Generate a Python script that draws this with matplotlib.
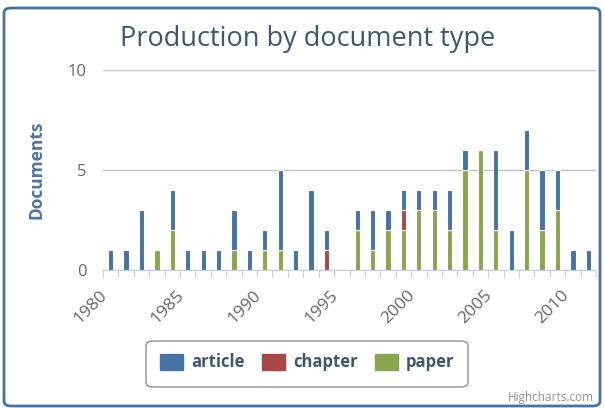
import matplotlib.pyplot as plt
from matplotlib.patches import FancyBboxPatch, Rectangle
from matplotlib.transforms import ScaledTranslation
import numpy as np

# Data
years = list(range(1980, 2012))
article = [1, 1, 3, 0, 2, 1, 1, 1, 2, 1, 1, 4, 1, 4, 1, 0,
           1, 2, 1, 1, 1, 1, 2, 1, 0, 4, 2, 2, 3, 2, 1, 1]
chapter = [0, 0, 0, 0, 0, 0, 0, 0, 0, 0, 0, 0, 0, 0, 1, 0,
           0, 0, 0, 1, 0, 0, 0, 0, 0, 0, 0, 0, 0, 0, 0, 0]
paper = [0, 0, 0, 1, 2, 0, 0, 0, 1, 0, 1, 1, 0, 0, 0, 0,
         2, 1, 2, 2, 3, 3, 2, 5, 6, 2, 0, 5, 2, 3, 0, 0]
tick_years = [1980, 1985, 1990, 1995, 2000, 2005, 2010]
series_names = ['article', 'chapter', 'paper']
colors = ['#4572A7', '#AA4643', '#89A54E']

plt.rcParams['font.family'] = ['Open Sans', 'DejaVu Sans']

W, H = 604, 408
fig = plt.figure(figsize=(W / 100, H / 100), dpi=100)

# outer rounded border
fig.patches.append(FancyBboxPatch((4 / W, 2 / H), 596 / W, 398 / H,
                                  boxstyle='round,pad=0,rounding_size=0.012',
                                  transform=fig.transFigure, fill=False,
                                  edgecolor='#4572A7', linewidth=2))

ax = fig.add_axes([103 / W, 1 - 270 / H, 493 / W, 200 / H])

x = np.array(years)
a = np.array(article)
c = np.array(chapter)
p = np.array(paper)
bw = 0.34
# stacking: paper bottom, chapter middle, article top
ax.bar(x, p, width=bw, color=colors[2], edgecolor='white', linewidth=0.8, zorder=3)
ax.bar(x, c, width=bw, bottom=p, color=colors[1], edgecolor='white', linewidth=0.8, zorder=3)
ax.bar(x, a, width=bw, bottom=p + c, color=colors[0], edgecolor='white', linewidth=0.8, zorder=3)

ax.set_ylim(0, 10)
ax.set_yticks([0, 5, 10])
ax.yaxis.grid(True, color='#C0C0C0', linewidth=1)
ax.set_axisbelow(True)
for s in ['top', 'right', 'left']:
    ax.spines[s].set_visible(False)
ax.spines['bottom'].set_color('#C0D0E0')
ax.tick_params(axis='y', length=0, labelsize=12, labelcolor='#666666', pad=12)

# category boundary ticks, year labels drawn by hand a bit left of the category
ax.set_xticks(np.arange(1979.5, 2012, 1))
ax.set_xticklabels([])
ax.tick_params(axis='x', length=5, color='#C0D0E0')
ax.set_xlim(1979.5, 2011.5)
shift = ScaledTranslation(-12 / 100, -17 / 100, fig.dpi_scale_trans)
for ty in tick_years:
    ax.text(ty, 0, str(ty), transform=ax.get_xaxis_transform() + shift,
            rotation=45, ha='right', va='top', rotation_mode='anchor',
            fontsize=12.5, color='#666666')

ax.set_ylabel('Documents', fontsize=12.5, fontweight='bold', color='#4D759E', labelpad=16)

fig.text(308 / W, 1 - 39 / H, 'Production by document type', ha='center', va='center',
         fontsize=19.5, color='#3E576F')

# legend box
fig.patches.append(FancyBboxPatch((146 / W, 1 - 387 / H), 322 / W, 46 / H,
                                  boxstyle='round,pad=0,rounding_size=0.012',
                                  transform=fig.transFigure, fill=False,
                                  edgecolor='#909090', linewidth=1))
item_x = [160, 262, 375]
for xi, name, col in zip(item_x, series_names, colors):
    fig.patches.append(Rectangle((xi / W, 1 - 370 / H), 23 / W, 16 / H,
                                 transform=fig.transFigure, color=col))
    fig.text((xi + 31) / W, 1 - 362 / H, name, ha='left', va='center',
             fontsize=12, fontweight='bold', color='#3E576F')

fig.text(594 / W, 1 - 397 / H, 'Highcharts.com', ha='right', va='center',
         fontsize=8.5, color='#909090')

fig.savefig('out.png', dpi=100)
